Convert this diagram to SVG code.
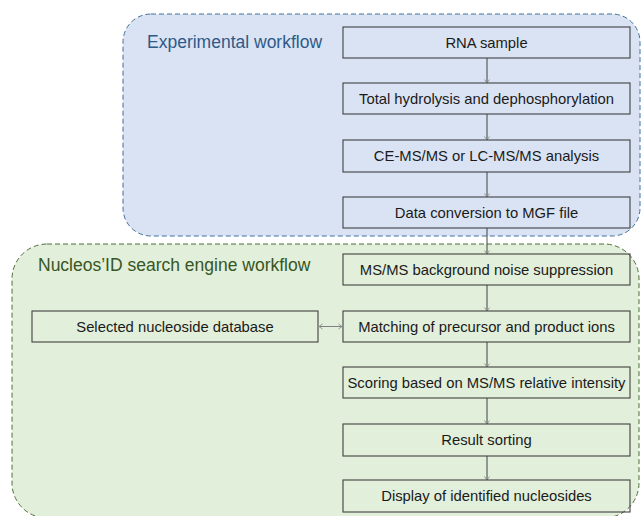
<svg xmlns="http://www.w3.org/2000/svg" width="641" height="516" viewBox="0 0 641 516">
  <style>
    .region-exp { fill: #dae3f3; stroke: #41719c; stroke-width: 1; stroke-dasharray: 5 3; }
    .region-eng { fill: #e2efda; stroke: #4e6e3a; stroke-width: 1; stroke-dasharray: 5 3; }
    .box { fill: none; stroke: #404040; stroke-width: 1.1; }
    .label { font-family: "Liberation Sans", Arial, sans-serif; font-size: 14.8px; fill: #1a1a1a; text-anchor: middle; }
    .title-exp { font-family: "Liberation Sans", Arial, sans-serif; font-size: 17.5px; fill: #2e5a88; }
    .title-eng { font-family: "Liberation Sans", Arial, sans-serif; font-size: 17.5px; fill: #375623; }
    .flow { stroke: #404040; stroke-width: 1; fill: none; }
    .link { stroke: #808080; stroke-width: 1; fill: none; }
  </style>
  <defs>
    <marker id="arrow" markerUnits="userSpaceOnUse" markerWidth="8" markerHeight="8" viewBox="-4 -4 8 8" refX="0" refY="0" orient="auto">
      <path d="M -3.5 -2.5 L 0 0 L -3.5 2.5" fill="none" stroke="#8c8c8c" stroke-width="0.9"/>
    </marker>
    <marker id="arrow-start" markerUnits="userSpaceOnUse" markerWidth="8" markerHeight="8" viewBox="-4 -4 8 8" refX="0" refY="0" orient="auto-start-reverse">
      <path d="M -3.5 -2.5 L 0 0 L -3.5 2.5" fill="none" stroke="#8c8c8c" stroke-width="0.9"/>
    </marker>
  </defs>

  <!-- workflow regions -->
  <g id="region-experimental">
    <rect class="region-exp" x="123" y="14" width="517" height="222" rx="28" ry="28"/>
    <text class="title-exp" x="147" y="48">Experimental workflow</text>
  </g>
  <g id="region-engine">
    <rect class="region-eng" x="12" y="244" width="627" height="274" rx="35" ry="35"/>
    <text class="title-eng" x="38" y="271">Nucleos’ID search engine workflow</text>
  </g>

  <!-- connectors -->
  <g id="connectors">
    <line class="flow" x1="487" y1="58" x2="487" y2="83" marker-end="url(#arrow)"/>
    <line class="flow" x1="487" y1="114" x2="487" y2="140" marker-end="url(#arrow)"/>
    <line class="flow" x1="487" y1="172" x2="487" y2="197" marker-end="url(#arrow)"/>
    <line class="flow" x1="487" y1="228" x2="487" y2="254" marker-end="url(#arrow)"/>
    <line class="flow" x1="487" y1="285" x2="487" y2="311" marker-end="url(#arrow)"/>
    <line class="flow" x1="487" y1="342" x2="487" y2="367" marker-end="url(#arrow)"/>
    <line class="flow" x1="487" y1="398" x2="487" y2="424" marker-end="url(#arrow)"/>
    <line class="flow" x1="487" y1="456" x2="487" y2="480" marker-end="url(#arrow)"/>
    <line class="link" x1="319" y1="326.5" x2="342" y2="326.5" marker-start="url(#arrow-start)" marker-end="url(#arrow)"/>
  </g>

  <!-- experimental steps -->
  <g id="node-rna-sample">
    <rect class="box" x="343" y="27" width="287" height="31"/>
    <text class="label" x="486.5" y="47.5">RNA sample</text>
  </g>
  <g id="node-hydrolysis">
    <rect class="box" x="343" y="83" width="287" height="31"/>
    <text class="label" x="486.5" y="103.5">Total hydrolysis and dephosphorylation</text>
  </g>
  <g id="node-ms-analysis">
    <rect class="box" x="343" y="140" width="287" height="32"/>
    <text class="label" x="486.5" y="161">CE-MS/MS or LC-MS/MS analysis</text>
  </g>
  <g id="node-mgf-conversion">
    <rect class="box" x="343" y="197" width="287" height="31"/>
    <text class="label" x="486.5" y="217.5">Data conversion to MGF file</text>
  </g>

  <!-- search engine steps -->
  <g id="node-noise-suppression">
    <rect class="box" x="343" y="254" width="287" height="31"/>
    <text class="label" x="486.5" y="274.5">MS/MS background noise suppression</text>
  </g>
  <g id="node-database">
    <rect class="box" x="32" y="311" width="286" height="31"/>
    <text class="label" x="175" y="331.5">Selected nucleoside database</text>
  </g>
  <g id="node-matching">
    <rect class="box" x="343" y="311" width="287" height="31"/>
    <text class="label" x="486.5" y="331.5">Matching of precursor and product ions</text>
  </g>
  <g id="node-scoring">
    <rect class="box" x="343" y="367" width="287" height="31"/>
    <text class="label" x="486.5" y="387.5">Scoring based on MS/MS relative intensity</text>
  </g>
  <g id="node-sorting">
    <rect class="box" x="343" y="424" width="287" height="32"/>
    <text class="label" x="486.5" y="445">Result sorting</text>
  </g>
  <g id="node-display">
    <rect class="box" x="343" y="480" width="287" height="32"/>
    <text class="label" x="486.5" y="501">Display of identified nucleosides</text>
  </g>
</svg>
